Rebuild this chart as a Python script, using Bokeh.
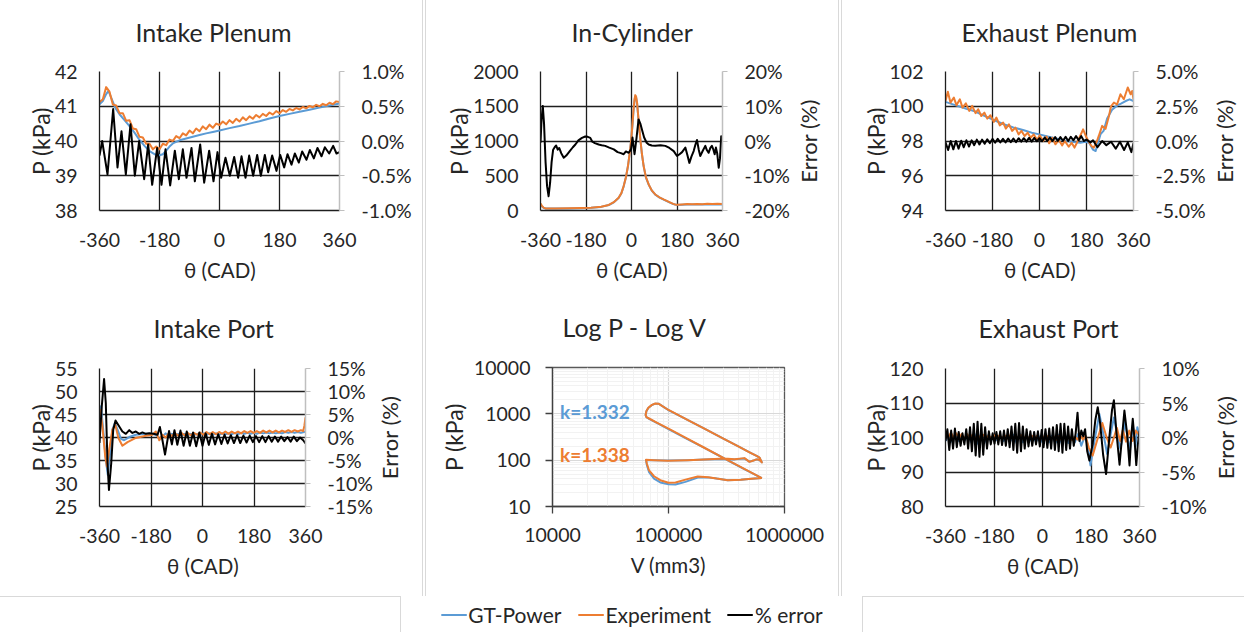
import math
from bokeh.plotting import figure
from bokeh.layouts import row, column
from bokeh.models import (Range1d, LinearAxis, FixedTicker, PrintfTickFormatter,
                          Label, Div, Legend, LegendItem, Title)
from bokeh.embed import file_html
from bokeh.resources import INLINE

# ---------------- Intake plenum ----------------
ip_gt_theta = [-360, -350, -340, -333, -325, -313, -300, -285, -270, -255, -240, -225, -210, -195,
               -180, -170, -160, -150, -140, -120, -100, -80, -60, -40, -20, 0, 30, 60, 90, 120,
               150, 180, 210, 240, 270, 300, 330, 360]
ip_gt_p = [41.06, 41.15, 41.35, 41.44, 41.25, 40.96, 40.77, 40.6, 40.43, 40.24, 40.03, 39.86, 39.71, 39.62,
           39.59, 39.62, 39.72, 39.84, 39.93, 40.02, 40.07, 40.12, 40.17, 40.22, 40.26, 40.3, 40.37, 40.43, 40.5, 40.57,
           40.65, 40.72, 40.78, 40.84, 40.9, 40.96, 41.02, 41.08]
ip_exp_theta = list(range(-360, 361, 10))
ip_exp_p = [41.12, 41.2, 41.55, 41.42, 41.05, 41.02, 40.8, 40.8, 40.58, 40.6,
            40.36, 40.34, 40.12, 40.1, 39.92, 39.92, 39.76, 39.84, 39.76, 39.92,
            39.88, 40.04, 40.0, 40.14, 40.08, 40.22, 40.16, 40.3, 40.22, 40.36,
            40.28, 40.42, 40.34, 40.47, 40.38, 40.5, 40.46, 40.56, 40.48, 40.6,
            40.52, 40.64, 40.56, 40.68, 40.6, 40.71, 40.64, 40.75, 40.68, 40.78,
            40.72, 40.82, 40.76, 40.86, 40.8, 40.89, 40.84, 40.92, 40.88, 40.95,
            40.91, 40.98, 40.94, 41.01, 40.97, 41.04, 41.0, 41.07, 41.03, 41.1,
            41.06, 41.14, 41.12]
ip_err_theta = [-360, -352, -336, -319, -306, -294, -281, -267, -254, -241, -226, -214, -202, -187, -174,
                -162, -148, -134, -122, -110, -99, -84, -74, -58, -46, -31, -18, -6, 5, 18,
                31, 44, 56, 66, 78, 89, 101, 113, 124, 136, 146, 158, 171, 182, 194,
                204, 216, 226, 238, 248, 261, 271, 283, 294, 306, 316, 329, 341, 351, 360]
ip_err = [-0.21, 0.0, -0.48, 0.46, -0.38, 0.14, -0.48, 0.24, -0.5, 0.0, -0.55, -0.05, -0.63, -0.1, -0.63,
          -0.12, -0.64, -0.14, -0.55, -0.12, -0.53, -0.1, -0.58, -0.05, -0.6, -0.14, -0.58, -0.16, -0.53, -0.24,
          -0.5, -0.23, -0.53, -0.22, -0.53, -0.21, -0.5, -0.2, -0.5, -0.2, -0.45, -0.21, -0.43, -0.2, -0.38,
          -0.19, -0.34, -0.18, -0.31, -0.15, -0.27, -0.13, -0.25, -0.1, -0.22, -0.09, -0.18, -0.07, -0.18, -0.16]

# ---------------- In-cylinder ----------------
ic_theta = [-360, -355, -348, -340, -300, -250, -200, -160, -120, -90, -70, -51, -40, -31, -22,
            -14, -7, -1, 4, 8, 12, 15, 18, 22, 28, 35, 41, 48, 57, 68,
            80, 94, 110, 127, 150, 165, 173, 180, 200, 220, 240, 260, 280, 300, 320, 340, 360]
ic_exp_p = [100, 70, 42, 30, 30, 32, 35, 40, 55, 80, 120, 183, 250, 351, 480,
            640, 830, 1024, 1250, 1457, 1600, 1660, 1640, 1553, 1300, 1024, 820, 640, 480, 375,
            290, 231, 190, 159, 120, 95, 87, 82, 88, 92, 90, 95, 90, 96, 92, 96, 94]
ic_gt_p = [92, 62, 38, 28, 28, 30, 33, 38, 52, 78, 118, 180, 248, 348, 478,
           636, 825, 1018, 1240, 1440, 1585, 1645, 1630, 1545, 1295, 1020, 818, 638, 478, 372,
           288, 229, 188, 157, 118, 93, 85, 80, 84, 86, 85, 87, 86, 88, 87, 88, 88]
ic_err_theta = [-360, -356, -351, -346, -340, -334, -328, -322, -316, -310, -304, -298, -292, -286, -278,
                -268, -258, -245, -232, -222, -210, -196, -183, -173, -163, -155, -145, -130, -118, -104,
                -88, -70, -55, -42, -31, -22, -11, -2, 4, 8, 12, 20, 28, 35, 41,
                50, 60, 68, 80, 94, 115, 134, 150, 167, 180, 190, 200, 213, 221, 229,
                237, 246, 253, 259, 266, 272, 282, 292, 298, 305, 312, 318, 324, 329, 334,
                339, 345, 350, 355, 360]
ic_err = [-0.5, 6.0, 10.1, 5.0, -6.0, -13.0, -15.9, -12.0, -6.0, -2.5, -1.8, -1.3, -2.5, -2.0, -3.5,
          -4.8, -4.2, -3.0, -1.8, -1.0, 0.2, 0.9, 1.3, 1.2, 0.9, -0.2, -0.6, -1.0, -1.2, -1.4,
          -1.9, -2.4, -3.2, -3.5, -3.8, -3.0, -3.4, -2.4, 1.0, -1.5, -3.8, 1.0, 6.2, 5.0, 3.4,
          1.0, -0.5, -1.0, -1.3, -1.4, -1.2, -1.4, -2.0, -2.9, -4.3, -3.8, -3.2, -1.9, -4.0, -6.3,
          -4.5, -2.9, -1.0, 0.3, -2.5, -4.3, -2.8, -1.4, -2.6, -3.4, -2.0, -1.4, -2.5, -3.8, -1.9,
          -3.5, -7.7, -5.0, 1.4, 1.0]

# ---------------- Exhaust plenum ----------------
ep_gt_theta = [-360, -320, -280, -251, -220, -181, -140, -100, -60, -30, 0, 35, 68, 100, 131,
               157, 175, 190, 205, 215, 234, 246, 259, 278, 298, 312, 330, 345, 360]
ep_gt_p = [100.25, 100.05, 99.85, 99.73, 99.5, 99.25, 98.98, 98.78, 98.62, 98.48, 98.38, 98.25, 98.13, 98.02, 97.94,
           97.9, 97.95, 97.9, 97.5, 97.42, 98.4, 98.6, 99.3, 99.8, 100.05, 100.15, 100.3, 100.4, 100.3]
ep_exp_theta = [-360, -351, -341, -328, -318, -305, -295, -282, -269, -258, -245, -235, -223, -211, -200,
                -188, -175, -165, -152, -139, -129, -117, -105, -92, -80, -69, -57, -45, -34, -22,
                -9, 1, 14, 27, 37, 49, 61, 74, 87, 97, 112, 123, 134, 150, 167,
                180, 189, 200, 208, 220, 227, 240, 253, 266, 274, 285, 297, 310, 323, 338,
                349, 355, 360]
ep_exp_p = [100.3, 100.83, 100.21, 100.5, 100.06, 100.4, 99.92, 100.17, 99.73, 100.02, 99.6, 99.83, 99.44, 99.63, 99.29,
            99.48, 99.1, 99.35, 98.9, 99.06, 98.71, 98.96, 98.58, 98.77, 98.38, 98.58, 98.29, 98.48, 98.19, 98.38,
            98.06, 98.33, 98.0, 98.25, 97.87, 98.19, 97.81, 98.06, 97.75, 98.0, 97.67, 97.9, 97.62, 98.1, 98.67,
            98.2, 97.94, 97.7, 97.62, 98.0, 98.29, 98.87, 98.7, 99.44, 100.0, 100.21, 100.1, 100.69, 100.4, 101.08,
            100.69, 100.88, 100.4]
ep_err_theta = list(range(-360, 171, 10)) + [180, 195, 205, 222, 240, 256, 274, 292, 308, 324, 338, 352, 360]
ep_err = [-0.1, -0.65, 0.0, -0.6, 0.0, -0.55, 0.02, -0.45, 0.05, -0.4,
          0.05, -0.3, 0.1, -0.25, 0.1, -0.2, 0.12, -0.15, 0.15, -0.12,
          0.15, -0.1, 0.15, -0.1, 0.18, -0.08, 0.18, -0.08, 0.2, -0.05,
          0.2, -0.05, 0.22, -0.05, 0.22, -0.02, 0.2, -0.02, 0.25, 0.0,
          0.25, 0.0, 0.28, 0.0, 0.28, 0.02, 0.3, 0.0, 0.3, 0.05,
          0.35, 0.05, 0.35, 0.0,
          0.1, -0.1, 0.05, -0.45, 0.0, -0.3, -0.05, -0.55, -0.05, -0.65, -0.1, -0.8, -0.15]

# ---------------- Intake port ----------------
inp_gt_theta = [-360, -355, -347, -338, -331, -324, -315, -306, -297, -285, -274, -256, -233, -198, -175,
                -160, -150, -140, -129, -118, -107, -96, -85, -74, -63, -52, -41, -30, -19, -8,
                3, 14, 25, 36, 47, 58, 69, 80, 91, 102, 113, 124, 135, 146, 157,
                168, 179, 190, 201, 212, 223, 234, 245, 256, 267, 278, 289, 300, 311, 322,
                333, 344, 355, 360]
inp_gt_p = [44.6, 46.8, 41.7, 35.2, 31.9, 35.9, 41.7, 43.2, 41.7, 39.7, 39.4, 40.1, 40.6, 40.8, 40.8,
            40.5, 39.6, 40.2, 40.9, 40.3, 40.8, 40.4, 40.8, 40.4, 40.8, 40.5, 40.8, 40.5, 40.8, 40.5,
            40.9, 40.6, 40.9, 40.6, 40.9, 40.6, 40.9, 40.7, 40.9, 40.7, 41.0, 40.7, 41.0, 40.8, 41.0,
            40.8, 41.0, 40.8, 41.1, 40.9, 41.1, 40.9, 41.1, 40.9, 41.1, 40.9, 41.2, 41.0, 41.2, 41.0,
            41.2, 41.0, 41.2, 41.3]
inp_exp_theta = [-360, -357, -350, -340, -334, -326, -315, -305, -294, -280, -262, -233, -198, -175, -163,
                 -151, -140, -129, -118, -107, -96, -85, -74, -63, -52, -41, -30, -19, -8, 3,
                 14, 25, 36, 47, 58, 69, 80, 91, 102, 113, 124, 135, 146, 157, 168,
                 179, 190, 201, 212, 223, 234, 245, 256, 267, 278, 289, 300, 311, 322, 333,
                 344, 352, 356, 360]
inp_exp_p = [45.0, 46.0, 42.5, 35.9, 33.7, 37.4, 41.7, 42.8, 39.9, 38.2, 39.0, 39.9, 40.4, 40.6, 41.3,
             39.4, 40.6, 40.0, 40.9, 40.3, 40.9, 40.4, 41.0, 40.5, 41.0, 40.5, 41.0, 40.6, 41.1, 40.6,
             41.2, 40.7, 41.2, 40.7, 41.2, 40.8, 41.3, 40.8, 41.3, 40.9, 41.3, 40.9, 41.4, 41.0, 41.4,
             41.0, 41.4, 41.0, 41.5, 41.1, 41.5, 41.1, 41.5, 41.1, 41.5, 41.2, 41.6, 41.2, 41.6, 41.3,
             41.6, 41.4, 42.5, 44.4]
inp_err_theta = [-360, -352, -344, -338, -332, -327, -319, -312, -304, -291, -280, -268, -256, -245, -233,
                 -221, -210, -198, -186, -172, -157, -149, -140, -131, -117, -107, -98, -88, -77, -66,
                 -55, -44, -33, -22, -11, 0, 11, 22, 33, 44, 55, 66, 77, 88, 99,
                 110, 121, 132, 143, 154, 165, 176, 187, 198, 209, 220, 231, 242, 253, 264,
                 275, 286, 297, 308, 319, 330, 341, 352, 360]
inp_err = [-1.2, 6.8, 12.7, 7.5, -5.6, -11.4, -5.6, 1.7, 3.7, 2.4, 1.3, 0.8, 1.6, 1.0, 1.3,
           0.8, 1.1, 0.8, 0.9, 0.8, 0.6, 2.3, -0.6, -3.7, 1.4, -1.5, 1.6, -1.6, 1.5, -1.8,
           1.3, -1.8, 1.1, -1.9, 1.1, -1.8, 0.9, -1.6, 0.8, -1.5, 0.7, -1.4, 0.6, -1.3, 0.5,
           -1.2, 0.5, -1.2, 0.4, -1.1, 0.4, -1.0, 0.3, -1.0, 0.3, -1.0, 0.3, -0.9, 0.2, -0.9,
           0.2, -0.8, 0.1, -0.9, 0.2, -0.8, 0.0, -0.6, -1.3]

# ---------------- Exhaust port ----------------
xp_gt_theta = list(range(-360, 169, 12)) + [178, 195, 211, 226, 240, 253, 265, 277, 289, 298, 306, 316,
                                             325, 335, 345, 352, 360]
xp_gt_p = [99.0, 100.5, 98.8, 100.4, 99.0, 100.2, 99.2, 100.6, 98.6, 101.0,
           98.2, 101.2, 98.4, 100.6, 99.0, 100.3, 99.2, 100.2, 99.0, 100.4,
           98.8, 100.8, 98.4, 101.0, 98.6, 100.5, 99.0, 100.2, 98.8, 100.3,
           98.6, 100.4, 98.6, 100.6, 98.4, 100.8, 98.2, 100.8, 98.4, 100.4,
           98.6, 101.0, 97.6, 100.2, 98.0,
           91.9, 100.0, 106.8, 101.0, 95.2, 101.0, 105.8, 101.0, 96.7, 100.0, 104.5, 100.0,
           96.5, 103.5, 97.5, 103.0, 101.0]
xp_exp_theta = list(range(-360, 161, 10)) + [172, 186, 204, 222, 238, 253, 265, 276, 288, 298, 310, 322,
                                             334, 346, 360]
xp_exp_p = [101.2, 100.0, 101.4, 100.0, 101.2, 99.8, 101.0, 99.6, 101.0, 99.6,
            100.8, 99.6, 100.8, 99.6, 100.8, 99.8, 100.6, 99.8, 100.6, 99.8,
            100.6, 99.8, 100.6, 99.7, 100.6, 99.6, 100.7, 99.5, 100.7, 99.6,
            100.6, 99.6, 100.5, 99.6, 100.5, 99.5, 100.4, 99.4, 100.4, 99.4,
            100.4, 99.3, 100.4, 99.3, 100.3, 99.3, 100.3, 99.2, 100.2, 99.4,
            100.6, 99.4, 100.5,
            97.0, 94.75, 99.5, 104.2, 100.0, 97.1, 100.0, 102.8, 99.0, 102.2, 98.8, 102.0,
            99.0, 102.0, 100.5]
xp_err_theta = [-360, -353, -346, -339, -332, -325, -318, -311, -304, -297,
                -290, -283, -276, -269, -262, -255, -248, -241, -234, -227,
                -220, -213, -206, -199, -192, -185, -178, -171, -164, -157,
                -150, -143, -136, -129, -122, -115, -108, -101, -94, -87,
                -80, -73, -66, -59, -52, -45, -38, -31, -24, -17,
                -10, -3, 4, 11, 18, 25, 32, 39, 46, 53,
                60, 67, 74, 81, 88, 95, 102, 109, 116, 123,
                130, 137, 144, 151, 158, 166, 174, 186, 196, 205,
                214, 225, 236, 248, 258, 265, 275, 286, 295, 304,
                314, 323, 329, 335, 341, 348, 354, 360]
xp_err = [-0.5, 1.2, -1.8, 1.0, -1.6, 1.3, -1.4, 0.8, -1.2, 0.6,
          -1.0, 1.2, -1.6, 1.5, -2.0, 2.0, -2.6, 2.3, -2.8, 2.0,
          -2.5, 1.5, -1.6, 0.9, -1.0, 0.6, -0.9, 0.8, -1.0, 0.9,
          -1.1, 1.0, -1.2, 1.2, -1.4, 1.6, -1.8, 2.0, -2.2, 2.1,
          -2.0, 1.6, -1.6, 1.2, -1.3, 0.9, -1.2, 0.8, -1.0, 0.9,
          -1.3, 1.1, -1.4, 1.2, -1.5, 1.3, -1.6, 1.5, -1.8, 1.8,
          -2.0, 2.0, -2.2, 2.0, -1.8, 1.6, -1.6, 1.2, -1.2, 0.6,
          3.6, -0.5, 1.0, 0.2, 1.2, -2.0, -3.35, -1.0, 2.5, 4.4,
          2.0, -2.5, -5.3, 0.0, 4.0, 5.4, 0.5, -3.95, 0.0, 3.9,
          0.5, -4.05, 0.0, 2.7, 0.0, -4.0, -1.0, 1.0]

# ---------------- Log P - Log V loop ----------------
pv_volume = [638000, 450000, 300000, 200000, 140000, 100000, 80000, 68000, 64500, 63500,
             64500, 67000, 72000, 77000, 82000, 100000, 150000, 200000, 300000, 400000,
             500000, 580000, 609000, 625000, 638000, 620000, 590000, 570000, 540000, 499000,
             452000, 371000, 304000, 250000, 204000, 146600, 98400, 75000, 64000, 65000,
             68000, 75000, 85000, 100000, 115000, 140000, 178600, 220000, 260000, 324000,
             420000, 520000, 638000]
pv_exp_p = [41, 65, 111, 190, 305, 477, 641, 793, 850, 950,
            1150, 1350, 1560, 1670, 1660, 1211, 713, 490, 288, 198,
            148, 122, 114, 100, 89, 98, 104, 104, 98, 92,
            110.7, 105, 108, 106, 104, 100, 97, 100, 101.7, 85,
            60, 45, 37, 32.5, 33, 38, 44.4, 43, 40, 37,
            38, 39.5, 41]
pv_gt_p = [41, 64, 110, 188, 300, 470, 632, 782, 845, 945,
           1140, 1340, 1550, 1660, 1655, 1205, 712, 489, 288, 198,
           148, 122, 113, 99, 90, 97, 103, 103, 98, 93,
           108, 104, 106, 105, 103, 100, 98, 100, 101, 80,
           55, 40, 33, 30.2, 29.8, 34, 42, 42.5, 40, 37,
           38, 39.5, 41]
k_labels = ["k=1.332", "k=1.338"]
k_label_pos = [(11600, 1107), (11600, 135)]

FONT = "Lato"
TEXT = "#262626"
BLUE = "#5B9BD5"
ORANGE = "#ED7D31"
BLACK = "#000000"
GRID = "#1E1E1E"
SEC_AXIS = "#BFBFBF"
SEP = "#D9D9D9"


def style_axis(ax, standoff, label_size="20.5px"):
    ax.major_label_text_font = FONT
    ax.major_label_text_font_size = "19.5px"
    ax.major_label_text_color = TEXT
    ax.axis_label_text_font = FONT
    ax.axis_label_text_font_size = label_size
    ax.axis_label_text_font_style = "normal"
    ax.axis_label_text_color = TEXT
    ax.minor_tick_line_color = None
    ax.major_label_standoff = standoff


def set_title(p, text, dx, gap):
    # an empty title line between the frame and the heading lifts the heading
    p.add_layout(Title(text=" ", text_font_size="2px", standoff=gap), "above")
    p.title.text = text
    p.title.align = "left"
    p.title.offset = dx
    p.title.text_font = FONT
    p.title.text_font_size = "25px"
    p.title.text_font_style = "normal"
    p.title.text_color = TEXT
    p.title.standoff = 10


def crank_panel(title, dx, gap, size, frame, p_range, p_ticks, e_range, e_ticks, e_fmt, e_label_dx):
    w, h = size
    left, top, fw, fh = frame
    p = figure(width=w, height=h, output_backend="svg", toolbar_location=None, frame_align=False,
               x_range=Range1d(-360, 360), y_range=Range1d(*p_range),
               min_border_left=left, min_border_right=w - left - fw,
               min_border_top=top, min_border_bottom=h - top - fh)
    p.outline_line_color = None
    set_title(p, title, dx, gap)

    xa = p.xaxis[0]
    xa.ticker = FixedTicker(ticks=[-360, -180, 0, 180, 360])
    xa.formatter = PrintfTickFormatter(format="%d")
    xa.axis_label = "θ (CAD)"
    xa.axis_line_color = GRID
    xa.axis_line_width = 1.3
    xa.major_tick_line_color = None
    xa.major_tick_out = 0
    style_axis(xa, 22)
    xa.axis_label_standoff = 8

    ya = p.yaxis[0]
    ya.ticker = FixedTicker(ticks=p_ticks)
    ya.formatter = PrintfTickFormatter(format="%d")
    ya.axis_label = "P (kPa)"
    ya.axis_line_color = GRID
    ya.axis_line_width = 1.3
    ya.major_tick_line_color = None
    ya.major_tick_out = 0
    style_axis(ya, 22, "23px")
    ya.axis_label_standoff = -3

    p.xgrid.ticker = FixedTicker(ticks=[-180, 0, 180])
    p.ygrid.ticker = FixedTicker(ticks=p_ticks)
    p.grid.grid_line_color = GRID
    p.grid.grid_line_width = 1.3

    p.extra_y_ranges = {"err": Range1d(*e_range)}
    ra = LinearAxis(y_range_name="err", ticker=FixedTicker(ticks=e_ticks),
                    formatter=PrintfTickFormatter(format=e_fmt))
    ra.axis_line_color = SEC_AXIS
    ra.axis_line_width = 1.5
    ra.major_tick_line_color = SEC_AXIS
    ra.major_tick_out = 5
    ra.major_tick_in = 0
    style_axis(ra, 17, "22px")
    p.add_layout(ra, "right")
    if e_label_dx is not None:
        # secondary axis title, reading bottom-to-top like the primary one
        p.add_layout(Label(x=e_label_dx, y=fh / 2, x_units="screen", y_units="screen",
                           text="Error (%)", angle=math.pi / 2, text_align="center",
                           text_baseline="middle", text_font=FONT, text_font_size="22px",
                           text_color=TEXT), "right")
    return p


def draw_series(p, gt, exp, err):
    p.line(gt[0], gt[1], line_color=BLUE, line_width=2, line_join="round")
    p.line(exp[0], exp[1], line_color=ORANGE, line_width=2, line_join="round")
    p.line(err[0], err[1], line_color=BLACK, line_width=2, line_join="round", y_range_name="err")


p1 = crank_panel("Intake Plenum", 36, 16, (422, 300), (99, 71, 240, 139), (38, 42), [38, 39, 40, 41, 42],
                 (-1, 1), [-1, -0.5, 0, 0.5, 1], "%.1f%%", None)
draw_series(p1, (ip_gt_theta, ip_gt_p), (ip_exp_theta, ip_exp_p), (ip_err_theta, ip_err))

p2 = crank_panel("In-Cylinder", 31, 16, (412, 300), (114, 71, 182, 139), (0, 2000), [0, 500, 1000, 1500, 2000],
                 (-20, 20), [-20, -10, 0, 10, 20], "%d%%", 16)
draw_series(p2, (ic_theta, ic_gt_p), (ic_theta, ic_exp_p), (ic_err_theta, ic_err))

p3 = crank_panel("Exhaust Plenum", 16, 16, (402, 300), (103, 71, 188, 139), (94, 102), [94, 96, 98, 100, 102],
                 (-5, 5), [-5, -2.5, 0, 2.5, 5], "%.1f%%", 16)
draw_series(p3, (ep_gt_theta, ep_gt_p), (ep_exp_theta, ep_exp_p), (ep_err_theta, ep_err))

p4 = crank_panel("Intake Port", 54, 17, (422, 296), (99, 68, 206, 138), (25, 55), [25, 30, 35, 40, 45, 50, 55],
                 (-15, 15), [-15, -10, -5, 0, 5, 10, 15], "%d%%", 14)
draw_series(p4, (inp_gt_theta, inp_gt_p), (inp_exp_theta, inp_exp_p), (inp_err_theta, inp_err))

p6 = crank_panel("Exhaust Port", 33, 17, (402, 296), (103, 68, 194, 138), (80, 120), [80, 90, 100, 110, 120],
                 (-10, 10), [-10, -5, 0, 5, 10], "%d%%", 16)
draw_series(p6, (xp_gt_theta, xp_gt_p), (xp_exp_theta, xp_exp_p), (xp_err_theta, xp_err))

# ---- log-log indicator diagram ----
p5 = figure(width=412, height=296, output_backend="svg", toolbar_location=None, frame_align=False,
            x_axis_type="log", y_axis_type="log",
            x_range=Range1d(1e4, 1e6), y_range=Range1d(10, 1e4),
            min_border_left=126, min_border_right=54, min_border_top=67, min_border_bottom=90)
p5.outline_line_color = "#595959"
p5.outline_line_width = 1.3
set_title(p5, "Log P - Log V", 10, 17)
for ax, ticks, lab, st, ls in ((p5.xaxis[0], [1e4, 1e5, 1e6], "V (mm3)", 14, "20.5px"),
                               (p5.yaxis[0], [10, 100, 1000, 10000], "P (kPa)", 15, "23px")):
    ax.ticker = FixedTicker(ticks=ticks)
    ax.formatter = PrintfTickFormatter(format="%d")
    ax.axis_label = lab
    ax.axis_line_color = "#404040"
    ax.axis_line_width = 1.3
    ax.major_tick_line_color = "#404040"
    ax.major_tick_line_width = 1.3
    ax.major_tick_out = 7
    ax.major_tick_in = 0
    style_axis(ax, st, ls)
p5.xaxis[0].axis_label_standoff = 8
p5.yaxis[0].axis_label_standoff = 3
decade_minor = [m * 10 ** e for e in range(1, 6) for m in range(2, 10)]
p5.xgrid.ticker = FixedTicker(ticks=[1e5], minor_ticks=decade_minor)
p5.ygrid.ticker = FixedTicker(ticks=[100, 1000], minor_ticks=decade_minor)
p5.grid.grid_line_color = "#D9D9D9"
p5.grid.grid_line_width = 1.2
p5.grid.minor_grid_line_color = "#F2F2F2"
p5.line(pv_volume, pv_gt_p, line_color=BLUE, line_width=2, line_join="round")
p5.line(pv_volume, pv_exp_p, line_color=ORANGE, line_width=2, line_join="round")
for txt, (vx, py), col in zip(k_labels, k_label_pos, (BLUE, ORANGE)):
    p5.add_layout(Label(x=vx, y=py, text=txt, text_color=col, text_font=FONT,
                        text_font_size="19px", text_font_style="bold",
                        text_baseline="middle", text_align="left"))

# ---- shared legend ----
lg = figure(width=461, height=36, output_backend="svg", toolbar_location=None, frame_align=False,
            x_range=Range1d(0, 1), y_range=Range1d(0, 1),
            x_axis_location=None, y_axis_location=None, min_border=0)
lg.outline_line_color = None
lg.grid.visible = False
nan = float("nan")
r_gt = lg.line([nan], [nan], line_color=BLUE, line_width=2)
r_exp = lg.line([nan], [nan], line_color=ORANGE, line_width=2)
r_err = lg.line([nan], [nan], line_color=BLACK, line_width=2)
legend = Legend(items=[LegendItem(label="GT-Power", renderers=[r_gt]),
                       LegendItem(label="Experiment", renderers=[r_exp]),
                       LegendItem(label="% error", renderers=[r_err])],
                orientation="horizontal", location="center",
                label_text_font=FONT, label_text_font_size="21px", label_text_color=TEXT,
                glyph_width=26, glyph_height=20, label_standoff=2, spacing=16,
                padding=0, margin=0, border_line_color=None, background_fill_alpha=0)
lg.add_layout(legend, "center")


def rule(w, h, css):
    base = {"box-sizing": "border-box"}
    base.update(css)
    return Div(width=w, height=h, margin=(0, 0, 0, 0), styles=base)


line_css = f"1px solid {SEP}"
sep1 = rule(4, 596, {"border-left": line_css, "border-right": line_css})
sep2 = rule(4, 596, {"border-left": line_css, "border-right": line_css})
foot_left = rule(401, 36, {"border-top": line_css, "border-right": line_css})
foot_right = rule(382, 36, {"border-top": line_css, "border-left": line_css})

top = row(column(p1, p4, spacing=0), sep1, column(p2, p5, spacing=0), sep2,
          column(p3, p6, spacing=0), spacing=0)
bottom = row(foot_left, lg, foot_right, spacing=0)
page = column(top, bottom, spacing=0)

open("out.html", "w").write(file_html(page, INLINE, title="Engine pressure validation"))
